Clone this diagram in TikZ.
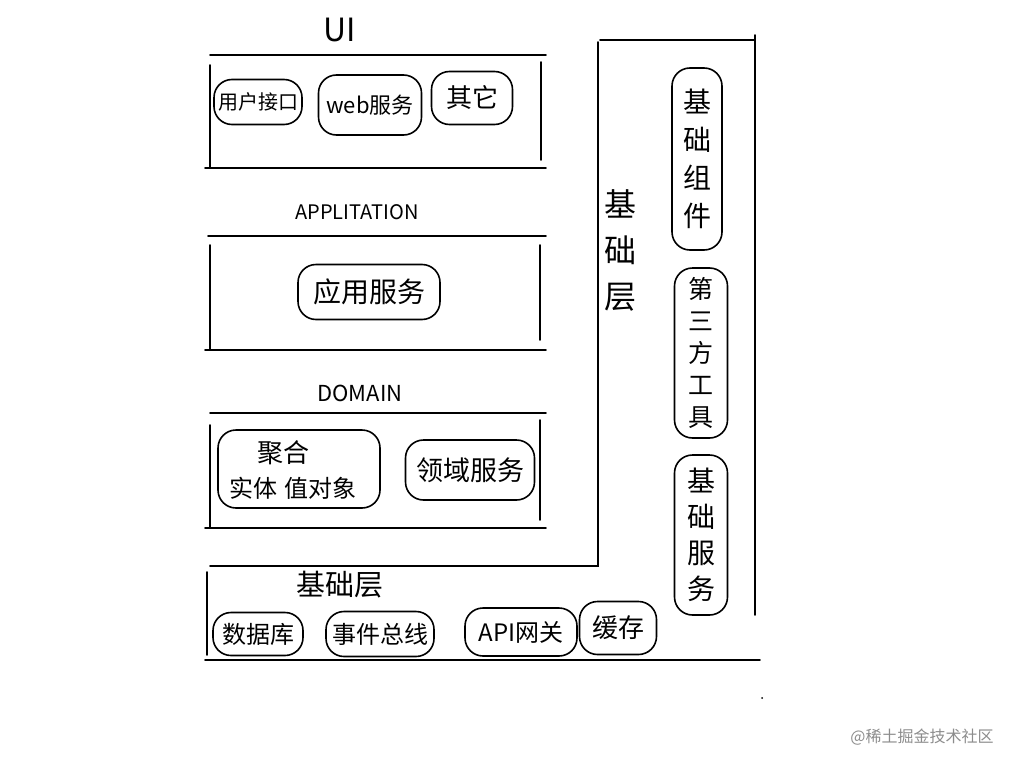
\documentclass[tikz,border=0pt]{standalone}
\usepackage{fontspec}
\newfontfamily\cjk{Noto Sans CJK SC}
\begin{document}
\begin{tikzpicture}[x=1pt,y=-1pt, line width=1.6pt, line cap=round,
  pill/.style={draw, rounded corners=18pt, inner sep=0pt},
  txt/.style={font=\cjk\fontsize{#1}{#1}\selectfont, inner sep=0pt},
  vtxt/.style={font=\cjk\fontsize{#1}{#1}\selectfont, inner sep=0pt, align=center},
  ttl/.style={font=\cjk\fontsize{#1}{#1}\selectfont, inner sep=0pt},
  sep/.style={line width=1.7pt}]
\useasboundingbox (0,0) rectangle (1024,768);

% ---- UI layer
\node[ttl=32] (tui) at (340,30) {UI};
\draw[sep] (210,55) -- (546,55);
\draw[sep] (210,65) -- (210,168);
\draw[sep] (541,62) -- (541,160);
\draw[sep] (205,168) -- (546,168);
\node[pill, minimum width=88pt, minimum height=45pt, txt=20] (yhjk) at (258,102) {用户接口};
\node[pill, minimum width=103pt, minimum height=60pt, txt=22] (web) at (370,105) {web服务};
\node[pill, minimum width=81pt, minimum height=53pt, txt=26] (qt) at (472,98) {其它};

% ---- Application layer
\node[ttl=20] (tapp) at (357,212) {APPLITATION};
\draw[sep] (208,236) -- (546,236);
\draw[sep] (210,245) -- (210,350);
\draw[sep] (540,245) -- (540,340);
\draw[sep] (205,350) -- (546,350);
\node[pill, minimum width=142pt, minimum height=55pt, txt=28] (yyfw) at (369,292) {应用服务};

% ---- Domain layer
\node[ttl=22] (tdom) at (360,393) {DOMAIN};
\draw[sep] (210,413) -- (546,413);
\draw[sep] (210,425) -- (210,528);
\draw[sep] (540,420) -- (540,520);
\draw[sep] (205,528) -- (546,528);
\node[pill, minimum width=162pt, minimum height=78pt] (jh) at (299,469) {};
\node[txt=26] (jhl1) at (283,453) {聚合};
\node[txt=24] (jhl2) at (293,488) {实体\hspace{8pt}值对象};
\node[pill, minimum width=129pt, minimum height=60pt, txt=27] (lyfw) at (470,470) {领域服务};

% ---- Infrastructure (L shape)
\draw[sep] (598,42) -- (598,566) -- (210,566);
\draw[sep] (600,40) -- (755,40);
\draw[sep] (755,35) -- (755,615);
\draw[sep] (207,572) -- (207,655);
\draw[sep] (205,660) -- (760,660);
\node[ttl=29] (tjc) at (340,585) {基础层};
\node[pill, minimum width=90pt, minimum height=43pt, txt=24] (sjk) at (258,634) {数据库};
\node[pill, minimum width=108pt, minimum height=45pt, txt=24] (sjzx) at (380,634) {事件总线};
\node[pill, minimum width=112pt, minimum height=48pt, txt=24] (apiwg) at (521,632) {API网关};
\node[pill, minimum width=77pt, minimum height=53pt, txt=26] (hc) at (618,628) {缓存};

% right column
\node[vtxt=32] (tjc2) at (620,250) {基\\[14pt]础\\[14pt]层};
\node[pill, minimum width=50pt, minimum height=182pt, vtxt=28] (jczj) at (697,159) {基\\[10pt]础\\[10pt]组\\[10pt]件};
\node[pill, minimum width=53pt, minimum height=170pt, vtxt=25] (dsfgj) at (701,353) {第\\[7pt]三\\[7pt]方\\[7pt]工\\[7pt]具};
\node[pill, minimum width=53pt, minimum height=160pt, vtxt=28] (jcfw) at (701,535) {基\\[8pt]础\\[8pt]服\\[8pt]务};

% stray dot and watermark
\fill (762,698) circle (1pt);
\node[txt=16, text=black!45] (wm) at (922,737) {@稀土掘金技术社区};
\end{tikzpicture}
\end{document}
